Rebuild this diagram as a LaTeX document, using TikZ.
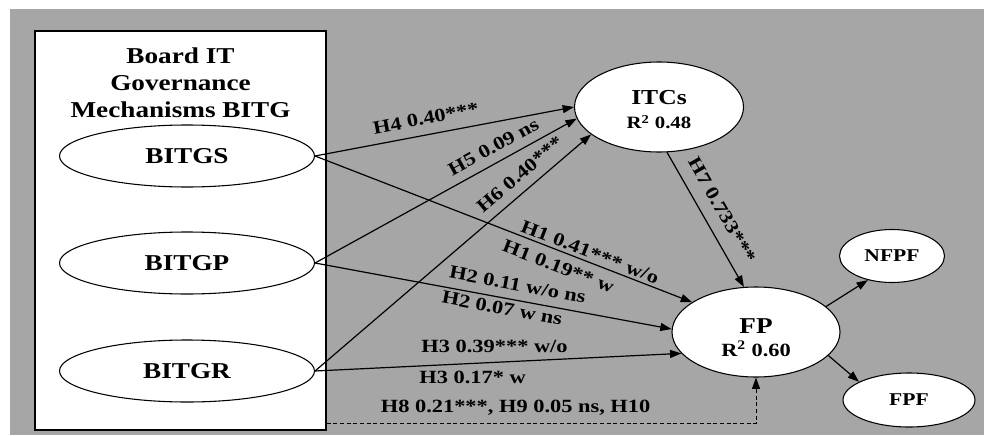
\documentclass[tikz,border=0pt]{standalone}
\usepackage{fontspec}
\setmainfont{Liberation Serif}[FakeStretch=1.2]
\usepackage{tikz}
\usetikzlibrary{shapes.geometric,arrows.meta,calc}
\definecolor{bggray}{HTML}{A6A6A6}

\begin{document}
\begin{tikzpicture}[x=0.75pt,y=0.75pt,yscale=-1,xscale=1,
    construct/.style={draw,ellipse,fill=white,line width=0.8pt,inner sep=0pt,align=center},
    bigtext/.style={font=\bfseries\fontsize{17}{20.25}\selectfont},
    smalltext/.style={font=\bfseries\fontsize{13.5}{16}\selectfont},
    effect/.style={line width=0.9pt,-{Triangle[length=8.5pt,width=6pt]}},
    coef/.style={font=\bfseries\fontsize{14}{16}\selectfont,inner sep=1.5pt}]
        \useasboundingbox (0,0) rectangle (984,435);
        %Background
        \fill[bggray] (10,9) rectangle (984,435);
        %Shape: Rectangle BITG
        \node[draw,fill=white,line width=1pt,minimum width=218.25pt,minimum height=299.25pt,inner sep=0pt] (bitg) at (180.5,230.5) {};
        % Text Node
        \node[bigtext,align=center] (bitgtitle) at (180.5,83) {Board IT\\Governance\\Mechanisms BITG};
        %Shape: Ellipse BITGS, BITGP, BITGR
        \node[construct,bigtext,minimum width=191.25pt,minimum height=46.5pt] (bitgs) at (187,156) {BITGS};
        \node[construct,bigtext,minimum width=191.25pt,minimum height=46.5pt] (bitgp) at (187,263) {BITGP};
        \node[construct,bigtext,minimum width=191.25pt,minimum height=46.5pt] (bitgr) at (187,371) {BITGR};
        %Shape: Ellipse ITCs
        \node[construct,font=\bfseries\fontsize{16}{18}\selectfont,minimum width=126.75pt,minimum height=67.5pt] (itcs) at (659,107)
            {\rule{0pt}{15pt}ITCs\\{\fontsize{13}{15}\selectfont R\textsuperscript{2} 0.48}};
        %Shape: Ellipse FP
        \node[construct,font=\bfseries\fontsize{17}{17.25}\selectfont,minimum width=126pt,minimum height=67.5pt] (fp) at (756,332)
            {\rule{0pt}{19pt}FP\\{\fontsize{14}{16}\selectfont R\textsuperscript{2} 0.60}};
        %Shape: Ellipse NFPF, FPF
        \node[construct,smalltext,minimum width=78.75pt,minimum height=39.75pt] (nfpf) at (892,256) {NFPF};
        \node[construct,smalltext,minimum width=99pt,minimum height=40.5pt] (fpf) at (909,400) {FPF};
        %Arrows to ITCs
        \draw[effect] (bitgs.east) -- (itcs.180)
            node[coef,pos=0.44,rotate=10.7,anchor=south,outer sep=6pt] {H4 0.40***};
        \draw[effect] (bitgp.east) -- (itcs.188)
            node[coef,pos=0.71,rotate=28.8,anchor=south,outer sep=5.5pt] {H5 0.09 ns};
        \draw[effect] (bitgr.east) -- (itcs.202)
            node[coef,pos=0.78,rotate=40.5,anchor=south,outer sep=6pt] {H6 0.40***};
        %Arrows to FP
        \draw[effect] (bitgs.east) -- (fp.155)
            node[coef,pos=0.72,rotate=-21.1,anchor=south,outer sep=1pt] {H1 0.41*** w/o}
            node[coef,pos=0.66,rotate=-21.1,anchor=north,outer sep=5pt] {H1 0.19** w};
        \draw[effect] (bitgp.east) -- (fp.178)
            node[coef,pos=0.56,rotate=-10.6,anchor=south,outer sep=5.5pt] {H2 0.11 w/o ns}
            node[coef,pos=0.53,rotate=-10.6,anchor=north,outer sep=1.5pt] {H2 0.07 w ns};
        \draw[effect] (bitgr.east) -- (fp.196)
            node[coef,pos=0.49,above=5pt] {H3 0.39*** w/o}
            node[coef,pos=0.43,below=4pt] {H3 0.17* w};
        \draw[effect] (itcs.-80) -- (fp.105)
            node[coef,pos=0.5,rotate=-60.4,anchor=south,outer sep=8pt] {H7 0.733***};
        %Arrows from FP
        \draw[effect] (fp.20) -- (nfpf.225);
        \draw[effect] (fp.-18) -- (fpf.160);
        %Dashed Line
        \coordinate (dstart) at ($(bitg.south east)+(0,-7)$);
        \draw[effect,line width=0.7pt,dash pattern=on 3pt off 2pt] (dstart) -| (fp.south)
            node[coef,pos=0.22,above=4pt] {H8 0.21***, H9 0.05 ns, H10};
\end{tikzpicture}
\end{document}
